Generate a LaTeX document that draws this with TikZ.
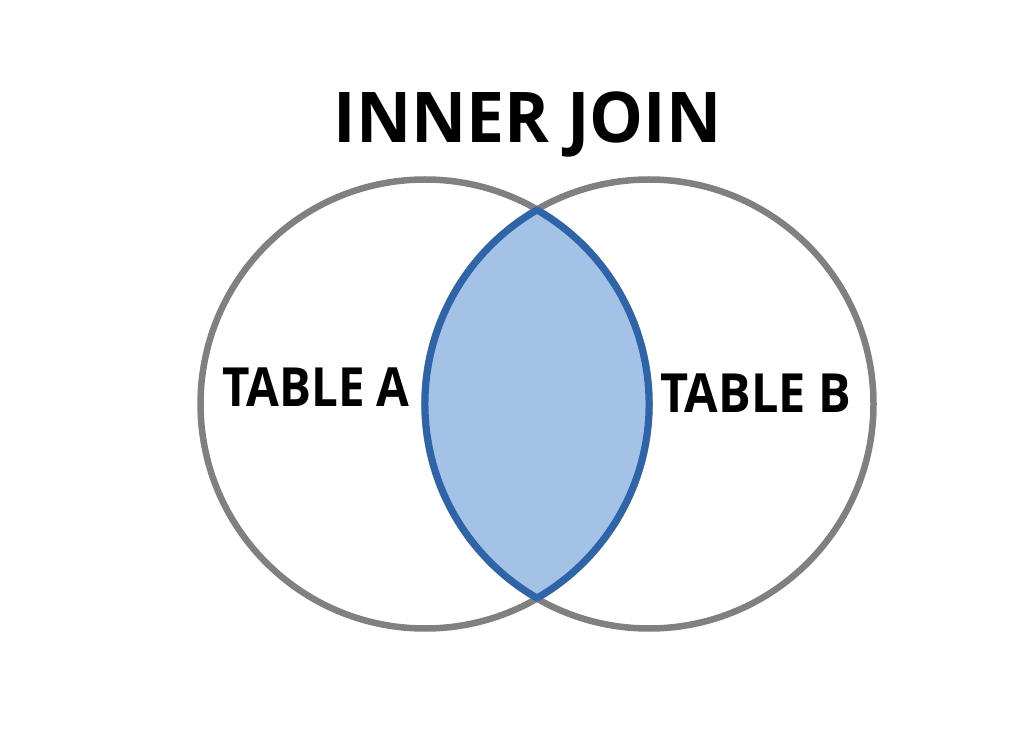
\documentclass[tikz,border=0pt]{standalone}
\usepackage{fontspec}
\setmainfont{Open Sans}
\definecolor{ringgray}{HTML}{808080}
\definecolor{lensfill}{HTML}{A4C2E6}
\definecolor{lensline}{HTML}{2E64AA}
\tikzset{
  setcircle/.style={draw=ringgray, line width=6.5pt, circle, minimum size=449pt, inner sep=0pt},
  lbl/.style={font=\bfseries\fontsize{54}{60}\selectfont, inner sep=0pt},
  ttl/.style={font=\bfseries\fontsize{70}{80}\selectfont, inner sep=0pt}
}
\begin{document}
\begin{tikzpicture}[x=1pt,y=1pt]
\useasboundingbox (0,0) rectangle (1032,739);
\node[setcircle] (A) at (425,335) {};
\node[setcircle] (B) at (649,335) {};
\coordinate (top) at (537,528.99);
\filldraw[fill=lensfill, draw=lensline, line width=7pt, line join=round]
  (top) arc[start angle=60, end angle=-60, radius=224]
        arc[start angle=240, end angle=120, radius=224] -- cycle;
\node[ttl, anchor=base] (title) at (527.5,596) {\scalebox{0.97}[1]{INNER JOIN}};
\node[lbl, anchor=base west] (ta) at (222,332) {\scalebox{0.88}[1]{TABLE A}};
\node[lbl, anchor=base west] (tb) at (660,326) {\scalebox{0.9}[1]{TABLE B}};
\end{tikzpicture}
\end{document}
